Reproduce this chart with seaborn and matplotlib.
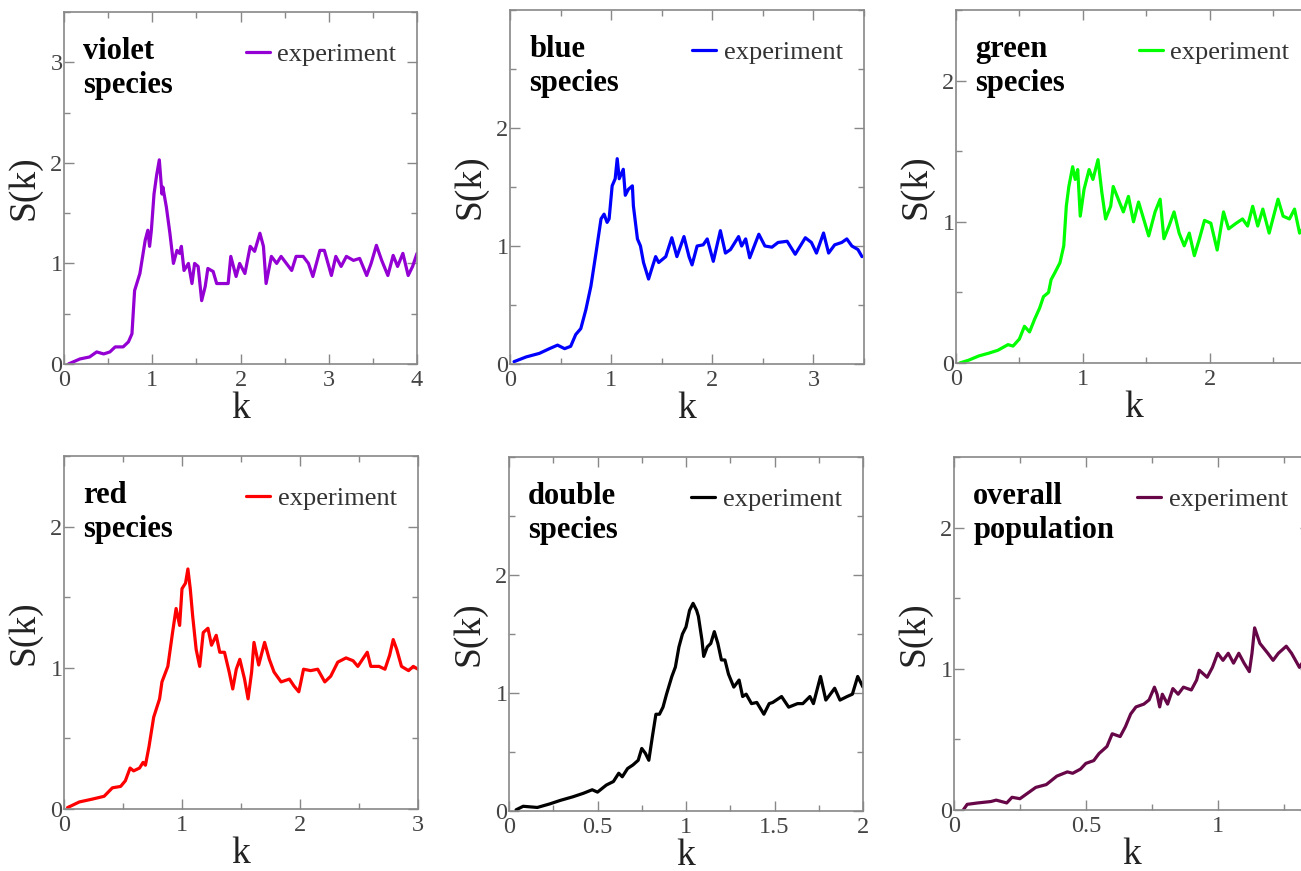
import numpy as np
import pandas as pd
import matplotlib
matplotlib.use("Agg")
import matplotlib.pyplot as plt
from matplotlib.ticker import MultipleLocator, FixedLocator, FuncFormatter
import seaborn as sns

# values
violet_k = [0.05, 0.18, 0.29, 0.37, 0.45, 0.52, 0.58, 0.67, 0.73, 0.77, 0.80, 0.86, 0.92, 0.95, 0.97,
            0.99, 1.02, 1.05, 1.08, 1.11, 1.12, 1.16, 1.20, 1.24, 1.28, 1.31, 1.33, 1.36, 1.41, 1.45,
            1.48, 1.52, 1.56, 1.60, 1.63, 1.69, 1.73, 1.80, 1.86, 1.89, 1.95, 1.99, 2.05, 2.11, 2.16,
            2.22, 2.26, 2.29, 2.35, 2.41, 2.46, 2.52, 2.58, 2.63, 2.71, 2.77, 2.82, 2.90, 2.95, 3.03,
            3.08, 3.14, 3.20, 3.28, 3.35, 3.43, 3.48, 3.54, 3.60, 3.67, 3.73, 3.78, 3.84, 3.90, 3.95, 4.00]
violet_s = [0.00, 0.05, 0.07, 0.12, 0.10, 0.12, 0.17, 0.17, 0.22, 0.30, 0.73, 0.90, 1.23, 1.33, 1.17,
            1.33, 1.69, 1.88, 2.03, 1.69, 1.76, 1.56, 1.30, 1.00, 1.13, 1.10, 1.17, 0.93, 1.00, 0.80,
            1.00, 0.97, 0.63, 0.77, 0.95, 0.92, 0.80, 0.80, 0.80, 1.07, 0.87, 1.00, 0.90, 1.17, 1.12,
            1.30, 1.17, 0.80, 1.07, 1.00, 1.07, 1.00, 0.93, 1.07, 1.07, 1.00, 0.87, 1.13, 1.13, 0.88,
            1.07, 0.97, 1.07, 1.03, 1.05, 0.88, 1.00, 1.18, 1.03, 0.88, 1.08, 0.97, 1.10, 0.88, 0.97, 1.10]

blue_k = [0.04, 0.16, 0.29, 0.39, 0.47, 0.54, 0.60, 0.65, 0.70, 0.75, 0.80, 0.85, 0.90, 0.93, 0.96,
          0.98, 1.01, 1.04, 1.06, 1.08, 1.12, 1.14, 1.17, 1.21, 1.22, 1.26, 1.29, 1.32, 1.37, 1.41,
          1.44, 1.47, 1.54, 1.60, 1.65, 1.72, 1.77, 1.80, 1.85, 1.91, 1.95, 2.01, 2.08, 2.13, 2.18,
          2.26, 2.29, 2.33, 2.37, 2.46, 2.52, 2.59, 2.65, 2.74, 2.82, 2.92, 2.98, 3.03, 3.10, 3.15,
          3.21, 3.28, 3.33, 3.38, 3.44, 3.48]
blue_s = [0.02, 0.06, 0.09, 0.13, 0.16, 0.13, 0.15, 0.25, 0.30, 0.46, 0.66, 0.94, 1.23, 1.27, 1.20,
          1.23, 1.51, 1.57, 1.74, 1.57, 1.65, 1.43, 1.48, 1.51, 1.34, 1.06, 1.00, 0.86, 0.72, 0.83,
          0.91, 0.86, 0.91, 1.07, 0.91, 1.08, 0.91, 0.84, 1.00, 1.01, 1.06, 0.87, 1.13, 0.94, 0.97,
          1.08, 1.00, 1.06, 0.90, 1.10, 1.00, 0.99, 1.03, 1.04, 0.93, 1.07, 1.03, 0.94, 1.11, 0.94,
          1.01, 1.03, 1.06, 1.00, 0.97, 0.91]

green_k = [0.03, 0.10, 0.18, 0.26, 0.33, 0.41, 0.45, 0.50, 0.54, 0.58, 0.62, 0.66, 0.69, 0.73, 0.75,
           0.78, 0.82, 0.85, 0.87, 0.89, 0.92, 0.94, 0.96, 0.98, 1.01, 1.05, 1.08, 1.12, 1.15, 1.18,
           1.22, 1.24, 1.28, 1.32, 1.36, 1.40, 1.44, 1.48, 1.52, 1.57, 1.61, 1.64, 1.68, 1.72, 1.76,
           1.80, 1.84, 1.88, 1.92, 1.96, 2.01, 2.06, 2.11, 2.15, 2.21, 2.26, 2.30, 2.34, 2.38, 2.42,
           2.47, 2.54, 2.58, 2.63, 2.67, 2.71, 2.75, 2.80]
green_s = [0.00, 0.02, 0.05, 0.07, 0.09, 0.13, 0.12, 0.17, 0.26, 0.22, 0.31, 0.39, 0.47, 0.50, 0.59,
           0.64, 0.71, 0.83, 1.11, 1.25, 1.39, 1.30, 1.37, 1.04, 1.23, 1.37, 1.30, 1.44, 1.21, 1.02,
           1.11, 1.25, 1.16, 1.07, 1.18, 1.00, 1.14, 1.02, 0.90, 1.07, 1.16, 0.88, 0.97, 1.07, 0.92,
           0.83, 0.92, 0.76, 0.88, 1.01, 0.99, 0.80, 1.07, 0.95, 0.99, 1.02, 0.97, 1.11, 0.97, 1.09,
           0.92, 1.16, 1.04, 1.02, 1.09, 0.92, 0.97, 1.02]

red_k = [0.03, 0.13, 0.24, 0.34, 0.41, 0.48, 0.52, 0.56, 0.59, 0.64, 0.67, 0.69, 0.72, 0.76, 0.81,
         0.83, 0.88, 0.92, 0.95, 0.98, 1.00, 1.03, 1.05, 1.07, 1.09, 1.12, 1.15, 1.18, 1.22, 1.25,
         1.29, 1.32, 1.36, 1.40, 1.43, 1.46, 1.49, 1.53, 1.56, 1.59, 1.61, 1.65, 1.70, 1.74, 1.78,
         1.84, 1.91, 1.95, 1.99, 2.03, 2.09, 2.15, 2.21, 2.26, 2.32, 2.39, 2.45, 2.49, 2.53, 2.57,
         2.60, 2.67, 2.72, 2.76, 2.79, 2.82, 2.86, 2.92, 2.96, 3.00]
red_s = [0.01, 0.05, 0.07, 0.09, 0.15, 0.16, 0.20, 0.29, 0.27, 0.29, 0.33, 0.31, 0.44, 0.65, 0.78,
         0.90, 1.01, 1.25, 1.42, 1.30, 1.56, 1.60, 1.70, 1.56, 1.37, 1.13, 1.01, 1.25, 1.28, 1.16,
         1.23, 1.11, 1.11, 0.97, 0.85, 0.99, 1.06, 0.92, 0.78, 0.97, 1.18, 1.02, 1.18, 1.06, 0.97,
         0.90, 0.92, 0.87, 0.83, 0.99, 0.98, 0.99, 0.90, 0.94, 1.04, 1.07, 1.05, 1.01, 1.06, 1.11,
         1.01, 1.01, 0.99, 1.09, 1.20, 1.13, 1.01, 0.98, 1.01, 0.99]

double_k = [0.04, 0.08, 0.16, 0.23, 0.29, 0.36, 0.42, 0.47, 0.50, 0.55, 0.59, 0.62, 0.64, 0.67, 0.70,
            0.73, 0.75, 0.77, 0.79, 0.81, 0.83, 0.85, 0.87, 0.89, 0.92, 0.94, 0.96, 0.98, 1.00, 1.02,
            1.04, 1.06, 1.07, 1.09, 1.10, 1.12, 1.14, 1.16, 1.18, 1.20, 1.22, 1.24, 1.27, 1.30, 1.32,
            1.34, 1.37, 1.40, 1.44, 1.47, 1.49, 1.54, 1.58, 1.63, 1.66, 1.70, 1.72, 1.76, 1.79, 1.84,
            1.87, 1.91, 1.94, 1.97, 2.00]
double_s = [0.01, 0.04, 0.03, 0.06, 0.09, 0.12, 0.15, 0.18, 0.16, 0.22, 0.25, 0.32, 0.29, 0.36, 0.39,
            0.43, 0.53, 0.49, 0.43, 0.63, 0.82, 0.82, 0.88, 0.99, 1.14, 1.22, 1.39, 1.50, 1.56, 1.70,
            1.76, 1.70, 1.65, 1.45, 1.31, 1.39, 1.42, 1.52, 1.42, 1.28, 1.28, 1.16, 1.05, 1.11, 0.97,
            0.99, 0.91, 0.92, 0.82, 0.91, 0.92, 0.97, 0.88, 0.91, 0.91, 0.97, 0.91, 1.14, 0.94, 1.04,
            0.94, 0.97, 0.99, 1.14, 1.05]

overall_k = [0.035, 0.05, 0.09, 0.14, 0.16, 0.20, 0.22, 0.25, 0.28, 0.31, 0.35, 0.39, 0.43, 0.45, 0.48,
             0.50, 0.53, 0.55, 0.58, 0.60, 0.63, 0.65, 0.67, 0.69, 0.72, 0.74, 0.76, 0.77, 0.78, 0.79,
             0.81, 0.83, 0.85, 0.87, 0.90, 0.92, 0.93, 0.96, 0.98, 1.00, 1.02, 1.04, 1.06, 1.08, 1.10,
             1.12, 1.13, 1.14, 1.16, 1.19, 1.21, 1.23, 1.26, 1.28, 1.31, 1.32, 1.35]
overall_s = [0.00, 0.04, 0.05, 0.06, 0.07, 0.05, 0.09, 0.08, 0.12, 0.16, 0.18, 0.24, 0.27, 0.26, 0.29,
             0.33, 0.35, 0.40, 0.45, 0.54, 0.52, 0.59, 0.68, 0.73, 0.75, 0.78, 0.87, 0.82, 0.73, 0.82,
             0.75, 0.86, 0.82, 0.87, 0.85, 0.92, 0.99, 0.94, 1.01, 1.11, 1.06, 1.11, 1.04, 1.11, 1.04,
             0.98, 1.11, 1.29, 1.18, 1.11, 1.06, 1.11, 1.16, 1.11, 1.01, 1.04, 1.02]

# labelled y ticks per panel
violet_yticks = [0, 1, 2, 3]
other_yticks = [0, 1, 2]

panels = [
    # name, k, s, color, xlim, ylim, x minor, x major, y ticks, axes box (px: left, top, width, height)
    ("violet\nspecies", violet_k, violet_s, "#9400d3", 4.0, 3.5, 0.5, 1, violet_yticks, (64, 12, 353, 352)),
    ("blue\nspecies", blue_k, blue_s, "#0000ff", 3.5, 3.0, 0.5, 1, other_yticks, (510, 10, 354, 354)),
    ("green\nspecies", green_k, green_s, "#00ff00", 2.8, 2.5, 0.5, 1, other_yticks, (956, 10, 355, 353)),
    ("red\nspecies", red_k, red_s, "#ff0000", 3.0, 2.5, 0.5, 1, other_yticks, (64, 456, 354, 353)),
    ("double\nspecies", double_k, double_s, "#000000", 2.0, 3.0, 0.25, 0.5, other_yticks, (509, 457, 354, 354)),
    ("overall\npopulation", overall_k, overall_s, "#670748", 1.35, 2.5, 0.25, 0.5, other_yticks, (954, 457, 356, 353)),
]

sns.set_style("ticks")
plt.rcParams["font.family"] = ["Liberation Serif", "DejaVu Serif"]

W, H = 1301, 871
fig = plt.figure(figsize=(W / 100, H / 100), dpi=100)
fmt = FuncFormatter(lambda v, p: "%g" % v)

for name, k, s, color, xmax, ymax, xminor, xmajor, yticks, box in panels:
    l, t, w, h = box
    ax = fig.add_axes([l / W, 1 - (t + h) / H, w / W, h / H])
    df = pd.DataFrame({"k": k, "S": s})
    sns.lineplot(data=df, x="k", y="S", ax=ax, color=color, linewidth=2.3,
                 label="experiment", estimator=None, sort=False)
    ax.set_xlim(0, xmax)
    ax.set_ylim(0, ymax)
    ax.xaxis.set_major_locator(MultipleLocator(xmajor))
    ax.xaxis.set_minor_locator(MultipleLocator(xminor))
    ax.yaxis.set_major_locator(FixedLocator(yticks))
    ax.yaxis.set_minor_locator(MultipleLocator(0.5))
    ax.xaxis.set_major_formatter(fmt)
    ax.yaxis.set_major_formatter(fmt)
    ax.tick_params(which="both", direction="in", top=True, right=True,
                   color="#888888", width=1, labelsize=17.5, labelcolor="#444444")
    ax.tick_params(which="major", length=7)
    ax.tick_params(which="minor", length=4)
    ax.tick_params(axis="x", pad=4)
    ax.tick_params(axis="y", pad=1)
    for sp in ax.spines.values():
        sp.set_color("#888888")
        sp.set_linewidth(1.2)
    ax.set_xlabel("k", fontsize=27, color="#222222")
    ax.set_ylabel("S(k)", fontsize=27, color="#222222")
    ax.xaxis.set_label_coords(0.5, -0.078)
    ax.yaxis.set_label_coords(-0.064, 0.5)
    ax.text(0.054, 0.93, name, transform=ax.transAxes, ha="left", va="top",
            fontsize=22, fontweight="bold", color="black", linespacing=1.25)
    leg = ax.legend(loc="center left", bbox_to_anchor=(0.515, 0.88), frameon=False,
                    fontsize=19, handlelength=0.9, handletextpad=0.3,
                    borderpad=0, borderaxespad=0)
    for txt in leg.get_texts():
        txt.set_color("#333333")

fig.savefig("out.png", dpi=100)
